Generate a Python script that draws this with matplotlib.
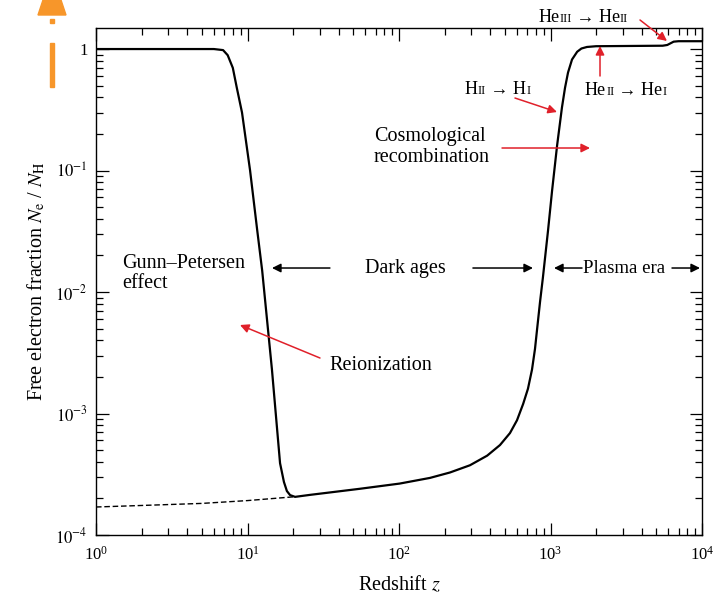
import numpy as np
import matplotlib
matplotlib.use("Agg")
import matplotlib.pyplot as plt
from matplotlib.patches import Polygon, Rectangle
from matplotlib.offsetbox import TextArea, HPacker, AnnotationBbox
from matplotlib.ticker import LogLocator, NullFormatter, FixedLocator

plt.rcParams['font.family'] = 'Liberation Serif'
plt.rcParams['mathtext.fontset'] = 'stix'

# ionization history
z_solid = [1, 2, 4, 6, 6.9, 7.4, 8.0, 8.5, 9.2, 10.4, 11.6, 12.5, 14.5, 16.4,
           17.4, 18.2, 19.1, 20.6, 25.9, 35, 55, 101, 160, 217, 294, 382,
           464, 540, 601, 660, 710, 755, 790, 815, 853, 890, 963, 1024, 1105,
           1190, 1247, 1305, 1387, 1500, 1600, 1740, 2000, 5500, 5900, 6500,
           7000, 10000]
xe_solid = [1.0, 1.0, 1.0, 1.0, 0.98, 0.89, 0.70, 0.48, 0.30, 0.10, 0.032,
            0.015, 2.3e-3, 3.9e-4, 2.73e-4, 2.3e-4, 2.13e-4, 2.06e-4, 2.14e-4,
            2.24e-4, 2.4e-4, 2.65e-4, 2.95e-4, 3.27e-4, 3.75e-4, 4.5e-4,
            5.5e-4, 6.9e-4, 8.8e-4, 1.2e-3, 1.6e-3, 2.3e-3, 3.4e-3, 4.9e-3,
            8.3e-3, 1.3e-2, 0.032, 0.068, 0.16, 0.33, 0.48, 0.64, 0.82, 0.95,
            1.01, 1.04, 1.055, 1.065, 1.08, 1.15, 1.16, 1.16]
# without reionization
z_dash = [1, 2, 5, 10, 20]
xe_dash = [1.7e-4, 1.75e-4, 1.82e-4, 1.92e-4, 2.06e-4]

ytick_vals = [1e-4, 1e-3, 1e-2, 1e-1, 1]
ytick_labels = [r'$10^{-4}$', r'$10^{-3}$', r'$10^{-2}$', r'$10^{-1}$', '1']

red = '#e0202a'
fs = 14.5

fig = plt.figure(figsize=(7.18, 5.96), dpi=100)
ax = fig.add_axes([96/718, 1-535/596, 606/718, 507/596])

ax.plot(z_solid, xe_solid, color='black', lw=1.6)
ax.plot(z_dash, xe_dash, color='black', lw=1.0, ls=(0, (4, 2)))

ax.set_xscale('log')
ax.set_yscale('log')
ax.set_xlim(1, 1e4)
ax.set_ylim(1e-4, 1.49)
ax.yaxis.set_major_locator(FixedLocator(ytick_vals))
ax.set_yticklabels(ytick_labels)
ax.yaxis.set_minor_locator(LogLocator(base=10, subs=np.arange(2, 10), numticks=20))
ax.yaxis.set_minor_formatter(NullFormatter())
ax.xaxis.set_minor_locator(LogLocator(base=10, subs=np.arange(2, 10), numticks=20))
ax.tick_params(which='both', direction='in', top=True, right=True, width=0.9,
               labelsize=12)
ax.tick_params(which='major', length=9)
ax.tick_params(which='minor', length=5)
ax.tick_params(axis='x', which='major', pad=8)
ax.tick_params(axis='y', which='major', pad=6)
for s in ax.spines.values():
    s.set_linewidth(1.0)

ax.set_xlabel(r'Redshift $z$', fontsize=fs, labelpad=8)
ax.set_ylabel(r'Free electron fraction $N_{\rm e}$ / $N_{\rm H}$', fontsize=fs, labelpad=6)

af = 'axes fraction'
blk = dict(arrowstyle='-|>', color='black', lw=1.1, mutation_scale=13, shrinkA=0, shrinkB=0)
rd = dict(arrowstyle='-|>', color=red, lw=1.1, mutation_scale=13, shrinkA=0, shrinkB=0)

ax.text(0.043, 0.4872, 'Gunn\u2013Petersen\neffect', transform=ax.transAxes,
        fontsize=fs, va='baseline', ha='left', linespacing=1.1)
ax.text(0.5107, 0.5168, 'Dark ages', transform=ax.transAxes, fontsize=fs,
        va='baseline', ha='center')
ax.annotate('', xy=(0.2904, 0.5266), xytext=(0.386, 0.5266), xycoords=af, arrowprops=blk)
ax.annotate('', xy=(0.7211, 0.5266), xytext=(0.622, 0.5266), xycoords=af, arrowprops=blk)
ax.text(0.8036, 0.5168, 'Plasma era', transform=ax.transAxes, fontsize=fs * 0.93,
        va='baseline', ha='left')
ax.annotate('', xy=(0.7558, 0.5266), xytext=(0.802, 0.5266), xycoords=af, arrowprops=blk)
ax.annotate('', xy=(0.9967, 0.5266), xytext=(0.9505, 0.5266), xycoords=af, arrowprops=blk)

ax.text(0.3845, 0.3254, 'Reionization', transform=ax.transAxes, fontsize=fs,
        va='baseline', ha='left')
ax.annotate('', xy=(0.2376, 0.4142), xytext=(0.3696, 0.3491), xycoords=af, arrowprops=rd)

ax.text(0.4587, 0.7357, 'Cosmological\nrecombination', transform=ax.transAxes,
        fontsize=fs, va='baseline', ha='left', linespacing=1.15)
ax.annotate('', xy=(0.8152, 0.7633), xytext=(0.67, 0.7633), xycoords=af, arrowprops=rd)


def ion_label(parts, xy, align=(0, 0)):
    kids = [TextArea(t, textprops=dict(fontsize=s, family='Liberation Serif'))
            for t, s in parts]
    box = HPacker(children=kids, align='baseline', pad=0, sep=0)
    ab = AnnotationBbox(box, xy, xycoords=af, box_alignment=align, frameon=False,
                        annotation_clip=False)
    ax.add_artist(ab)


big, small = 13, 9
ion_label([('H', big), ('II', small), (' \u2192 H', big), ('I', small)], (0.6089, 0.862))
ax.annotate('', xy=(0.7607, 0.8343), xytext=(0.6914, 0.8619), xycoords=af, arrowprops=rd)

ion_label([('He', big), ('II', small), (' \u2192 He', big), ('I', small)], (0.8069, 0.860))
ax.annotate('', xy=(0.8317, 0.9645), xytext=(0.8317, 0.9053), xycoords=af, arrowprops=rd)

ion_label([('He', big), ('III', small), (' \u2192 He', big), ('II', small)], (0.878, 1.004),
          align=(1, 0))
ax.annotate('', xy=(0.9422, 0.9744), xytext=(0.8977, 1.0158), xycoords=af,
            arrowprops=rd, annotation_clip=False)

# orange marker at the top left corner
orange = '#f7962a'
W, H = 718, 596
fig.patches.append(Polygon([(38/W, 1-15/H), (66/W, 1-15/H), (61/W, 1), (43/W, 1)],
                           closed=True, transform=fig.transFigure, color=orange))
fig.patches.append(Rectangle((50/W, 1-23/H), 4/W, 4/H, transform=fig.transFigure,
                             color=orange))
fig.patches.append(Rectangle((50/W, 1-87/H), 4/W, 44/H, transform=fig.transFigure,
                             color=orange))

fig.savefig('out.png', dpi=100)
